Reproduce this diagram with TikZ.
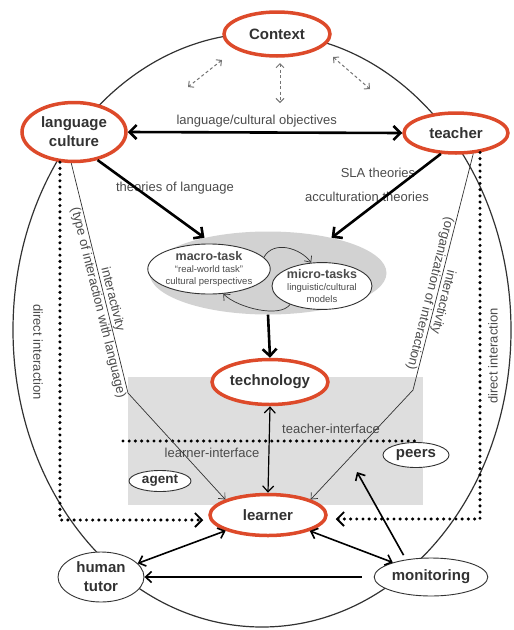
\documentclass[tikz,border=0pt]{standalone}
\usepackage{fontspec}
\setsansfont{Liberation Sans}
\usetikzlibrary{shapes.geometric,arrows.meta}
\definecolor{ctxred}{RGB}{221,74,42}
\definecolor{inkgray}{RGB}{50,50,50}
\definecolor{lblgray}{RGB}{75,75,75}
\definecolor{areagray}{RGB}{222,222,222}
\definecolor{taskgray}{RGB}{210,210,210}

\begin{document}
\begin{tikzpicture}[
x=1pt,y=-1pt,
font=\sffamily,
keynode/.style={ellipse,draw=ctxred,line width=3.5pt,fill=white,inner sep=1pt,align=center,text=inkgray,font=\sffamily\bfseries\fontsize{15}{19}\selectfont},
actor/.style={ellipse,draw=inkgray,line width=0.9pt,fill=white,inner sep=1pt,align=center,text=inkgray,font=\sffamily\bfseries\fontsize{15}{19}\selectfont},
task/.style={ellipse,draw=inkgray,line width=0.9pt,fill=white,inner sep=0pt,align=center,text=lblgray,font=\sffamily\fontsize{9.5}{12}\selectfont},
lbl/.style={text=lblgray,font=\sffamily\fontsize{13}{15}\selectfont,inner sep=1pt},
heavy/.style={draw=black,line width=2.6pt,-{Straight Barb[length=7pt,width=14pt]}},
heavyboth/.style={draw=black,line width=2.6pt,{Straight Barb[length=7pt,width=14pt]}-{Straight Barb[length=7pt,width=14pt]}},
middle/.style={draw=black,line width=1.6pt,-{Straight Barb[length=6pt,width=11pt]}},
middleboth/.style={draw=black,line width=1.6pt,{Straight Barb[length=6pt,width=11pt]}-{Straight Barb[length=6pt,width=11pt]}},
thinline/.style={draw=inkgray,line width=0.7pt,-{Straight Barb[length=5pt,width=9pt]}},
dotline/.style={draw=black,line width=3.4pt,line cap=round,dash pattern=on 0pt off 6.2pt},
dotarrow/.style={dotline,-{Straight Barb[length=7pt,width=14pt,line width=1.8pt]}},
dasharrow/.style={draw=black!55,line width=1pt,dash pattern=on 3pt off 2.5pt,{Straight Barb[length=4pt,width=8pt]}-{Straight Barb[length=4pt,width=8pt]}}
]
\useasboundingbox (0,0) rectangle (514,630);

% Outer frame and grey areas
\draw [inkgray,line width=1.2pt] (262,330) ellipse [x radius=249pt, y radius=297pt];
\fill [areagray] (128,377) rectangle (423,505);
\draw [dotline] (123,441) -- (418,441);

% Main nodes
\node [keynode,minimum width=106pt,minimum height=44pt] (context) at (277,34) {Context};
\node [keynode,minimum width=104pt,minimum height=59pt] (lang) at (74,132) {language\\culture};
\node [keynode,minimum width=104pt,minimum height=40pt] (teacher) at (456,133) {teacher};
\node [ellipse,fill=taskgray,minimum width=237pt,minimum height=83pt] (tasks) at (268,273) {};
\node [task,minimum width=116pt,minimum height=50pt] (macro) at (209,269)
  {{\bfseries\fontsize{12.5}{13}\selectfont macro-task}\\\textquotedblleft real-world task\textquotedblright\\cultural perspectives};
\node [task,minimum width=100pt,minimum height=46pt] (micro) at (322,286)
  {{\bfseries\fontsize{12.5}{13}\selectfont micro-tasks}\\linguistic/cultural\\models};
\node [keynode,minimum width=107pt,minimum height=45pt] (tech) at (270,382) {technology};
\node [keynode,minimum width=116pt,minimum height=41pt] (learner) at (268,515) {learner};
\node [actor,minimum width=66pt,minimum height=25pt] (peers) at (416,455) {peers};
\node [actor,minimum width=62pt,minimum height=21pt,font=\sffamily\bfseries\fontsize{13.5}{15}\selectfont] (agent) at (160,481) {agent};
\node [actor,minimum width=86pt,minimum height=50pt] (tutor) at (101,577) {human\\tutor};
\node [actor,minimum width=110pt,minimum height=38pt] (monitor) at (431,577) {monitoring};

% Labels
\node [lbl] (theolang) at (175,188) {theories of language};
\node [lbl] (sla) at (378,173) {SLA theories};
\node [lbl] (accult) at (367,197) {acculturation theories};
\node [lbl] (tinterface) at (331,429) {teacher-interface};
\node [lbl] (linterface) at (212,453) {learner-interface};
\node [lbl,rotate=-90] (directl) at (38,352) {direct interaction};
\node [lbl,rotate=90] (directr) at (493,356) {direct interaction};

% Free ends
\coordinate (lbend) at (128,393);
\coordinate (rbend) at (413,390);
\coordinate (peertip) at (357,472);
\coordinate (ctxa1) at (222,60);
\coordinate (ctxa2) at (188,87);
\coordinate (ctxb1) at (280,63);
\coordinate (ctxb2) at (280,103);
\coordinate (ctxc1) at (333,57);
\coordinate (ctxc2) at (370,89);

% Context influence
\foreach \p in {a,b,c}{
  \draw [dasharrow] (ctx\p1) to (ctx\p2);
}

% Design arrows
\draw [heavyboth] (lang.east) -- node [lbl,above=3pt,pos=0.47] {language/cultural objectives} (teacher.west);
\draw [heavy] (lang.-50) -- (tasks.151);
\draw [heavy] (teacher.-126) -- (tasks.29);
\draw [heavy] (tasks.south) -- (tech.north);
\draw [thinline] (macro.12) .. controls +(10,-18) and +(-10,-14) .. (micro.115);
\draw [thinline] (micro.-150) .. controls +(-10,14) and +(14,14) .. (macro.-60);

% Interactivity
\draw [thinline] (lang.-95) -- node [lbl,sloped,above,pos=0.6] {interactivity}
  node [lbl,sloped,below,pos=0.6] {(type of interaction with language)} (lbend) -- (learner.160);
\draw [thinline] (teacher.-50) -- node [lbl,sloped,allow upside down,above,pos=0.62] {interactivity}
  node [lbl,sloped,allow upside down,below,pos=0.6] {(organization of interaction)} (rbend) -- (learner.20);

% Direct interaction
\draw [dotarrow,shorten >=5pt] (lang.-115) |- ([yshift=-5pt]learner.west);
\draw [dotarrow,shorten >=8pt] (teacher.-39) |- ([yshift=-4pt]learner.east);

% Learner side
\draw [middleboth,line width=1.2pt] (tech.south) -- (learner.north);
\draw [middleboth] (learner) -- (tutor);
\draw [middleboth] (learner) -- (monitor);
\draw [middle,shorten <=12pt] (monitor) -- (tutor);
\draw [middle,shorten <=5pt] (monitor.145) -- (peertip);

\end{tikzpicture}
\end{document}
